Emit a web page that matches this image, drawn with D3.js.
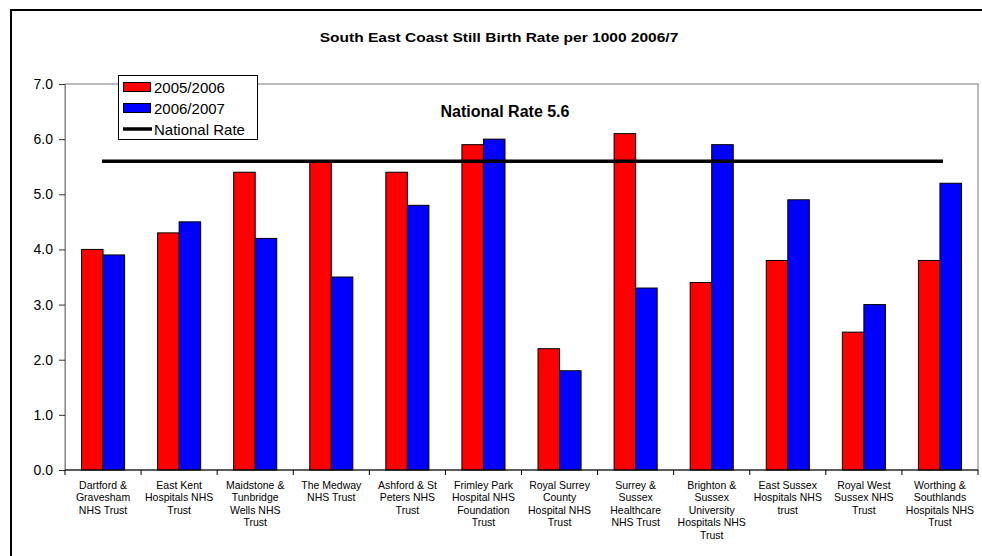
<!DOCTYPE html>
<html>
<head>
<meta charset="utf-8">
<script src="https://cdn.jsdelivr.net/npm/d3@7"></script>
<style>
  html, body { margin: 0; padding: 0; background: #fff; }
  svg { display: block; font-family: Arial, "Liberation Sans", sans-serif; }
</style>
</head>
<body>
<svg id="chart" width="982" height="556"></svg>
<script>
const title = "South East Coast Still Birth Rate per 1000 2006/7";
const categories = [
  ["Dartford &", "Gravesham", "NHS Trust"],
  ["East Kent", "Hospitals NHS", "Trust"],
  ["Maidstone &", "Tunbridge", "Wells NHS", "Trust"],
  ["The Medway", "NHS Trust"],
  ["Ashford & St", "Peters NHS", "Trust"],
  ["Frimley Park", "Hospital NHS", "Foundation", "Trust"],
  ["Royal Surrey", "County", "Hospital NHS", "Trust"],
  ["Surrey &", "Sussex", "Healthcare", "NHS Trust"],
  ["Brighton &", "Sussex", "University", "Hospitals NHS", "Trust"],
  ["East Sussex", "Hospitals NHS", "trust"],
  ["Royal West", "Sussex NHS", "Trust"],
  ["Worthing &", "Southlands", "Hospitals NHS", "Trust"]
];
const seriesNames = ["2005/2006", "2006/2007"];
const values2005 = [4.0, 4.3, 5.4, 5.6, 5.4, 5.9, 2.2, 6.1, 3.4, 3.8, 2.5, 3.8];
const values2006 = [3.9, 4.5, 4.2, 3.5, 4.8, 6.0, 1.8, 3.3, 5.9, 4.9, 3.0, 5.2];
const nationalRate = 5.6;
const nationalLabel = "National Rate 5.6";
const lineName = "National Rate";
const yTicks = [0, 1, 2, 3, 4, 5, 6, 7];
const colors = ["#ff0000", "#0000ff"];

const svg = d3.select("#chart");
const M = { left: 65, right: 978, top: 84, bottom: 470 };

// outer frame
svg.append("rect").attr("x", 11).attr("y", 10).attr("width", 1000).attr("height", 600)
  .attr("fill", "none").attr("stroke", "#000").attr("stroke-width", 2);

const idx = categories.map((d, i) => i);
const x = d3.scaleBand().domain(idx).range([M.left, M.right]).paddingInner(0).paddingOuter(0);
const x1 = d3.scaleBand().domain([0, 1]).range([0, x.bandwidth()]).paddingInner(0).paddingOuter(0.767);
const y = d3.scaleLinear().domain([0, 7]).range([M.bottom, M.top]);

// plot area border
svg.append("rect").attr("x", M.left).attr("y", M.top)
  .attr("width", M.right - M.left).attr("height", M.bottom - M.top)
  .attr("fill", "none").attr("stroke", "#8c8c8c").attr("stroke-width", 1.2);

// bars
const series = [values2005, values2006];
series.forEach((vals, s) => {
  svg.append("g").selectAll("rect").data(vals).join("rect")
    .attr("x", (d, i) => x(i) + x1(s))
    .attr("y", d => y(d))
    .attr("width", x1.bandwidth())
    .attr("height", d => y(0) - y(d))
    .attr("fill", colors[s])
    .attr("stroke", "#000").attr("stroke-width", 1);
});

// national rate line
svg.append("line")
  .attr("x1", x(0) + x.bandwidth() / 2 - 1)
  .attr("x2", x(categories.length - 1) + x.bandwidth() / 2 + 3)
  .attr("y1", y(nationalRate)).attr("y2", y(nationalRate))
  .attr("stroke", "#000").attr("stroke-width", 3.5);

svg.append("text").attr("x", 505).attr("y", 116.5).attr("text-anchor", "middle")
  .attr("font-size", 16).attr("font-weight", "bold").attr("fill", "#000").text(nationalLabel);

// y axis
const yAxis = d3.axisLeft(y).tickValues(yTicks).tickFormat(d3.format(".1f")).tickSize(6).tickPadding(6);
const gy = svg.append("g").attr("transform", `translate(${M.left},0)`).call(yAxis);
gy.select(".domain").attr("stroke", "#8c8c8c");
gy.selectAll(".tick line").attr("stroke", "#333");
gy.selectAll(".tick text").attr("font-size", 14).attr("font-family", "Arial, 'Liberation Sans', sans-serif").attr("fill", "#000");

// x axis
const gx = svg.append("g").attr("transform", `translate(0,${M.bottom})`);
gx.append("line").attr("x1", M.left).attr("x2", M.right).attr("y1", 0).attr("y2", 0)
  .attr("stroke", "#000").attr("stroke-width", 1.2);
const bounds = idx.map(i => x(i)).concat([M.right]);
gx.selectAll("line.tk").data(bounds).join("line").attr("class", "tk")
  .attr("x1", d => d).attr("x2", d => d).attr("y1", 0).attr("y2", 5)
  .attr("stroke", "#000");
categories.forEach((lines, i) => {
  const t = gx.append("text").attr("text-anchor", "middle")
    .attr("font-size", 10.5).attr("fill", "#000");
  lines.forEach((ln, j) => {
    t.append("tspan").attr("x", x(i) + x.bandwidth() / 2).attr("y", 18.5 + j * 12.6).text(ln);
  });
});

// title
svg.append("text").attr("transform", "translate(499,42) scale(1.15,1)")
  .attr("text-anchor", "middle").attr("font-size", 13.5).attr("font-weight", "bold")
  .attr("fill", "#000").text(title);

// legend
const lg = svg.append("g");
lg.append("rect").attr("x", 118.5).attr("y", 75.5).attr("width", 139).attr("height", 64)
  .attr("fill", "#fff").attr("stroke", "#000").attr("stroke-width", 1);
seriesNames.forEach((n, i) => {
  lg.append("rect").attr("x", 123.5).attr("y", 82.5 + i * 21).attr("width", 27).attr("height", 9)
    .attr("fill", colors[i]).attr("stroke", "#000").attr("stroke-width", 1);
  lg.append("text").attr("x", 154).attr("y", 92.5 + i * 21).attr("font-size", 15).attr("fill", "#000").text(n);
});
lg.append("line").attr("x1", 123).attr("x2", 152).attr("y1", 129).attr("y2", 129)
  .attr("stroke", "#000").attr("stroke-width", 3.5);
lg.append("text").attr("x", 154).attr("y", 134.5).attr("font-size", 15).attr("fill", "#000").text(lineName);
</script>
</body>
</html>
